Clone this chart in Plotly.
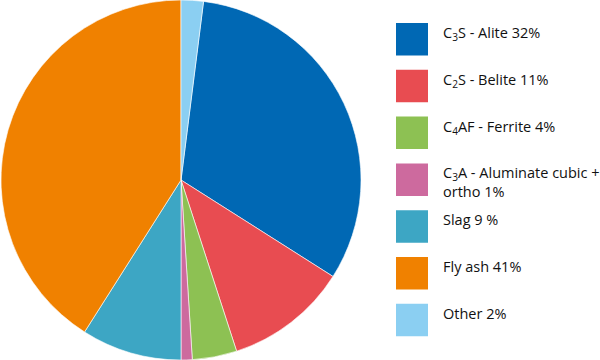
import plotly.graph_objects as go

labels = ["C<sub>3</sub>S - Alite 32%", "C<sub>2</sub>S - Belite 11%", "C<sub>4</sub>AF - Ferrite 4%",
          "C<sub>3</sub>A - Aluminate cubic +<br>ortho 1%", "Slag 9 %", "Fly ash 41%", "Other 2%"]
values = [32, 11, 4, 1, 9, 41, 2]
colors = ["#0068B4", "#E84C51", "#8DC153", "#CD6A9E", "#3DA6C4", "#F08100", "#8BCFF2"]

W, H = 600, 360
fig = go.Figure(go.Pie(
    labels=labels, values=values, sort=False, direction="clockwise", rotation=7.2,
    marker=dict(colors=colors, line=dict(color="white", width=0.6)),
    textinfo="none", hoverinfo="label+percent", showlegend=False,
    domain=dict(x=[0, 362 / W], y=[0, 1]),
))

shapes, annotations = [], []
x0, x1 = 396, 428
top0, step, size = 23, 46.8, 32.5
for i, lab in enumerate(labels):
    t = top0 + i * step
    shapes.append(dict(type="rect", xref="paper", yref="paper",
                       x0=x0 / W, x1=x1 / W, y0=1 - (t + size) / H, y1=1 - t / H,
                       fillcolor=colors[i], line=dict(width=0)))
    annotations.append(dict(xref="paper", yref="paper", x=441 / W, y=1 - (t - 2) / H,
                            xanchor="left", yanchor="top", align="left", showarrow=False,
                            text=lab, font=dict(family="Open Sans", size=14.5, color="#111111")))

fig.update_layout(width=W, height=H, margin=dict(l=0, r=0, t=0, b=0),
                  paper_bgcolor="white", plot_bgcolor="white",
                  shapes=shapes, annotations=annotations)
fig.write_html("out.html")
